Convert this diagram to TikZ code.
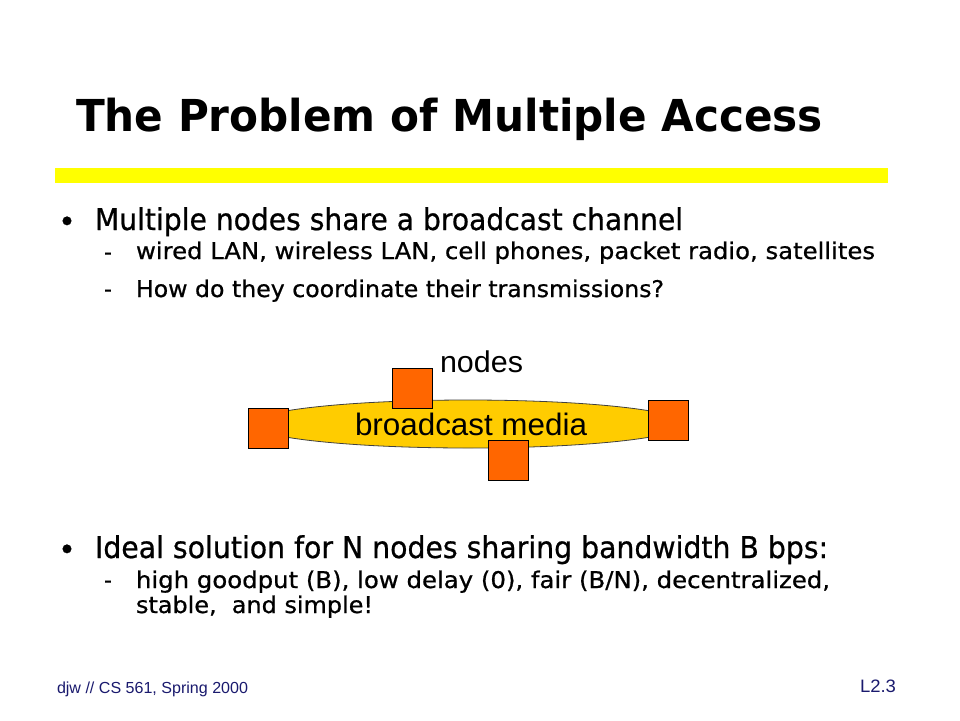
\documentclass[tikz,border=0pt]{standalone}
\usepackage{fontspec}
\usepackage{graphicx}
\setmainfont{DejaVu Sans}
\newfontfamily\bodyf[FakeBold=0.7]{DejaVu Sans}
\newfontfamily\arialf{Liberation Sans}
\usetikzlibrary{shapes.geometric}
\definecolor{baryellow}{HTML}{FFFF00}
\definecolor{mediafill}{HTML}{FFCC00}
\definecolor{nodefill}{HTML}{FF6600}
\definecolor{footblue}{HTML}{1A1A6E}
\newcommand{\fitto}[2]{\resizebox{#1}{\height}{#2}}
\begin{document}
\begin{tikzpicture}[x=1pt,y=-1pt,
  txt/.style={anchor=base west, inner sep=0pt, outer sep=0pt},
  bul/.style={anchor=base, inner sep=0pt, outer sep=0pt, font=\bodyf\fontsize{30}{30}\selectfont},
  dsh/.style={anchor=base west, inner sep=0pt, outer sep=0pt, font=\bodyf\fontsize{23}{23}\selectfont},
  main/.style={txt, font=\bodyf\fontsize{30}{30}\selectfont},
  sub/.style={txt, font=\bodyf\fontsize{23}{23}\selectfont},
  sq/.style={draw=black, fill=nodefill, minimum size=40pt, inner sep=0pt, line width=0.8pt},
  media/.style={ellipse, draw=black!75, fill=mediafill, minimum width=434pt, minimum height=48pt, inner sep=0pt, line width=0.8pt}]
\useasboundingbox[fill=white] (0,0) rectangle (960,720);

% title and bar
\node[txt, font=\fontsize{44}{44}\selectfont\bfseries] (title) at (76,131) {\fitto{747pt}{The Problem of Multiple Access}};
\fill[baryellow] (55,168) rectangle (888,183);

% first bullet
\node[bul] (b1) at (67,232) {•};
\node[main] (l1) at (95,230) {\fitto{588pt}{Multiple nodes share a broadcast channel}};
\node[dsh] (d1) at (104,260) {\fitto{8pt}{-}};
\node[sub] (l2) at (136,259) {\fitto{739pt}{wired LAN, wireless LAN, cell phones, packet radio, satellites}};
\node[dsh] (d2) at (104,297) {\fitto{8pt}{-}};
\node[sub] (l3) at (136,297) {\fitto{528pt}{How do they coordinate their transmissions?}};

% diagram
\node[media] (media) at (468,424) {};
\node[txt, font=\arialf\fontsize{31}{31}\selectfont] (mlabel) at (355,435) {\fitto{232pt}{broadcast media}};
\node[txt, font=\arialf\fontsize{30}{30}\selectfont] (nlabel) at (440,372) {\fitto{83pt}{nodes}};
\node[sq] (sqL) at (268,428) {};
\node[sq] (sqT) at (412,388) {};
\node[sq] (sqB) at (508,460) {};
\node[sq] (sqR) at (668,420) {};

% second bullet
\node[bul] (b2) at (67,560) {•};
\node[main] (l4) at (95,558) {\fitto{733pt}{Ideal solution for N nodes sharing bandwidth B bps:}};
\node[dsh] (d3) at (104,588) {\fitto{8pt}{-}};
\node[sub] (l5) at (136,588) {\fitto{694pt}{high goodput (B), low delay (0), fair (B/N), decentralized,}};
\node[sub] (l6) at (136,613) {\fitto{237pt}{stable,\ \ and simple!}};

% footer
\node[txt, font=\arialf\fontsize{16}{16}\selectfont, text=footblue] (foot) at (57,693) {\fitto{191pt}{djw // CS 561, Spring 2000}};
\node[txt, font=\arialf\fontsize{18}{18}\selectfont, text=footblue] (page) at (860,692) {\fitto{36pt}{L2.3}};
\end{tikzpicture}
\end{document}
